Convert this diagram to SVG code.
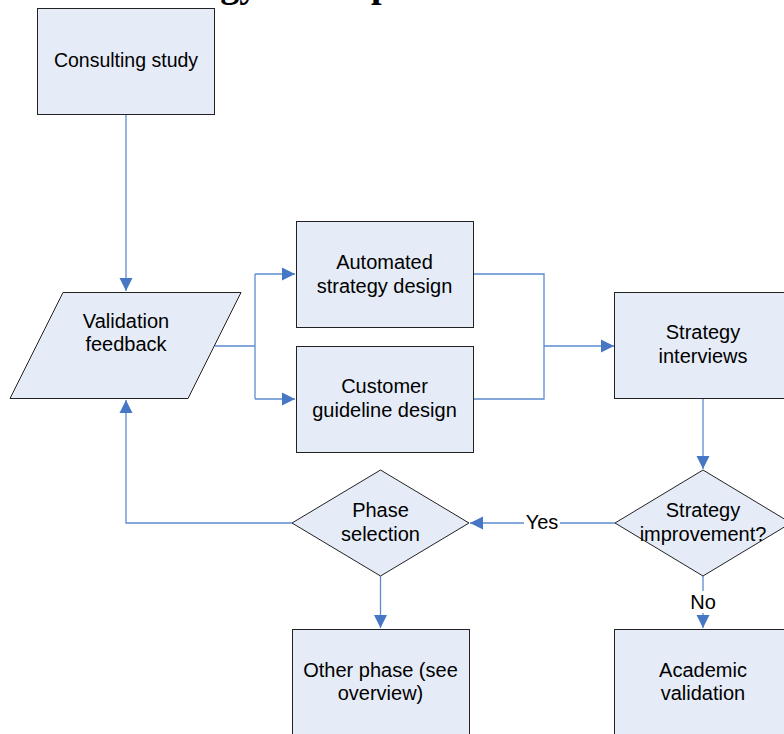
<svg xmlns="http://www.w3.org/2000/svg" width="784" height="734" viewBox="0 0 784 734">
<style>
.n{fill:#E6ECF7;stroke:#222;stroke-width:1}
.t{font-family:"Liberation Sans",Arial,sans-serif;font-size:20px;fill:#000;text-anchor:middle}
.c{fill:none;stroke:#5B8BD0;stroke-width:1.3}
.lb{fill:#fff}
</style>
<defs>
<marker id="ah" markerUnits="userSpaceOnUse" markerWidth="14" markerHeight="14" viewBox="0 0 14 14" refX="13" refY="7" orient="auto">
<path d="M0,0.5 L13,7 L0,13.5 Z" fill="#4677C4"/>
</marker>
</defs>
<rect width="784" height="734" fill="#fff"/>
<text x="121" y="-3" font-family="'Liberation Serif','Times New Roman',serif" font-weight="bold" font-size="38" fill="#000">Strategy development</text>

<g id="connectors">
<path class="c" d="M126,114 V291" marker-end="url(#ah)"/>
<path class="c" d="M215,346 H255 M255,274 V399"/>
<path class="c" d="M255,274 H295" marker-end="url(#ah)"/>
<path class="c" d="M255,399 H295" marker-end="url(#ah)"/>
<path class="c" d="M473,274 H544 V399 H473"/>
<path class="c" d="M544,346 H614" marker-end="url(#ah)"/>
<path class="c" d="M703,399 V469" marker-end="url(#ah)"/>
<path class="c" d="M615,523 H470" marker-end="url(#ah)"/>
<rect class="lb" x="524" y="512" width="36" height="22"/>
<text class="t" x="542" y="529">Yes</text>
<path class="c" d="M703,576 V628" marker-end="url(#ah)"/>
<rect class="lb" x="688" y="591" width="30" height="22"/>
<text class="t" x="703" y="609">No</text>
<path class="c" d="M292,523 H126 V400" marker-end="url(#ah)"/>
<path class="c" d="M380.5,576 V628" marker-end="url(#ah)"/>
</g>

<g id="consulting">
<rect class="n" x="37.5" y="8.5" width="177" height="106"/>
<text class="t" x="126" y="67" style="font-size:19.5px">Consulting study</text>
</g>
<g id="validation">
<polygon class="n" points="63,292.5 241,292.5 188,398.5 10,398.5"/>
<text class="t" x="126" y="328">Validation</text>
<text class="t" x="126" y="351">feedback</text>
</g>
<g id="automated">
<rect class="n" x="296.5" y="221.5" width="177" height="106"/>
<text class="t" x="384.5" y="269">Automated</text>
<text class="t" x="384.5" y="293">strategy design</text>
</g>
<g id="customer">
<rect class="n" x="296.5" y="346.5" width="177" height="106"/>
<text class="t" x="384.5" y="393">Customer</text>
<text class="t" x="384.5" y="417">guideline design</text>
</g>
<g id="interviews">
<rect class="n" x="614.5" y="292.5" width="177" height="106"/>
<text class="t" x="703" y="339">Strategy</text>
<text class="t" x="703" y="363">interviews</text>
</g>
<g id="improvement">
<polygon class="n" points="703,470 791,523 703,576 615,523"/>
<text class="t" x="703" y="517">Strategy</text>
<text class="t" x="703" y="541">improvement?</text>
</g>
<g id="phase">
<polygon class="n" points="380.5,470 469,523 380.5,576 292,523"/>
<text class="t" x="380.5" y="517">Phase</text>
<text class="t" x="380.5" y="541">selection</text>
</g>
<g id="other">
<rect class="n" x="292.5" y="629.5" width="177" height="106"/>
<text class="t" x="380.5" y="677">Other phase (see</text>
<text class="t" x="380.5" y="700">overview)</text>
</g>
<g id="academic">
<rect class="n" x="614.5" y="629.5" width="177" height="106"/>
<text class="t" x="703" y="677">Academic</text>
<text class="t" x="703" y="700">validation</text>
</g>
</svg>
